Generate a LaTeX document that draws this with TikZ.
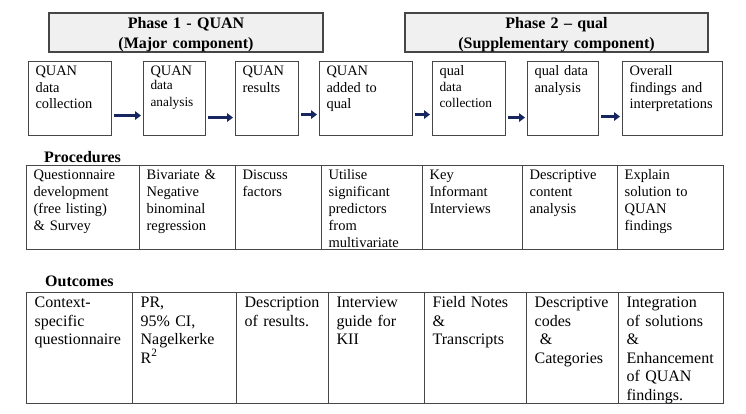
\documentclass[tikz,border=0pt]{standalone}
\usepackage{fontspec}
\setmainfont{Liberation Serif}
\usetikzlibrary{arrows.meta}

\definecolor{navy}{RGB}{24,38,96}
\definecolor{framegray}{RGB}{70,70,70}
\definecolor{headfill}{RGB}{240,240,240}

\tikzset{
	head/.style={draw=framegray, fill=headfill, line width=1.1pt, align=center, inner xsep=0pt,
		inner ysep=0pt, text height=11pt, text depth=19pt, minimum height=39pt,
		font=\fontsize{16}{19.5}\selectfont\bfseries},
	rowlabel/.style={anchor=west, inner sep=0pt, font=\fontsize{16}{19}\selectfont\bfseries},
	stepbox/.style={draw=framegray, line width=1.1pt, anchor=north west, align=left,
		inner xsep=7pt, inner ysep=3pt, text height=11pt, text depth=57pt,
		font=\fontsize{14.4}{16.7}\selectfont},
	proccell/.style={draw=framegray, line width=1.3pt, anchor=north west, align=left,
		inner xsep=7pt, inner ysep=3pt, text height=11pt, text depth=67pt,
		font=\fontsize{14.5}{17}\selectfont},
	outcell/.style={draw=framegray, line width=1.3pt, anchor=north west, align=left,
		inner xsep=8pt, inner ysep=3pt, text height=12pt, text depth=93pt,
		font=\fontsize{16}{18.5}\selectfont},
	flow/.style={navy, line width=2.8pt, -{Triangle[length=6pt,width=8.5pt]},
		shorten <=2pt, shorten >=2pt}
}

\begin{document}
\begin{tikzpicture}[x=1pt, y=-1pt]
	\useasboundingbox (0, 0) rectangle (746, 413);

	% Phases
	\node[head, text width=274pt] (ph1) at (186, 32.5) {Phase 1 - QUAN\\(Major component)};
	\node[head, text width=303pt] (ph2) at (556.5, 32.5) {Phase 2 -- qual\\(Supplementary component)};

	% Steps
	\node[stepbox, text width=69pt] (q1) at (28, 61) {QUAN\\data\\collection};
	\node[stepbox, text width=48pt] (q2) at (143, 61) {QUAN\\\fontsize{13.3}{14.3}\selectfont data\\analysis};
	\node[stepbox, text width=49pt] (q3) at (235, 61) {QUAN\\results};
	\node[stepbox, text width=79pt] (q4) at (319, 61) {QUAN\\added to\\qual};
	\node[stepbox, text width=59pt] (q5) at (432, 61) {qual\\\fontsize{13.3}{15.5}\selectfont data\\collection};
	\node[stepbox, text width=57pt] (q6) at (527, 61) {qual data\\analysis};
	\node[stepbox, text width=86pt] (q7) at (622, 61) {Overall\\findings and\\interpretations};

	\draw[flow] ([yshift=-17pt]q1.east) -- ([yshift=-17pt]q2.west);
	\draw[flow, line width=3.4pt] ([yshift=-19pt]q2.east) -- ([yshift=-19pt]q3.west);
	\draw[flow] ([yshift=-16pt]q3.east) -- ([yshift=-16pt]q4.west);
	\draw[flow] ([yshift=-16pt]q4.east) -- ([yshift=-16pt]q5.west);
	\draw[flow] ([yshift=-19pt]q5.east) -- ([yshift=-19pt]q6.west);
	\draw[flow] ([yshift=-18pt]q6.east) -- ([yshift=-18pt]q7.west);

	% Procedures
	\node[rowlabel] (proc) at (44, 157) {Procedures};
	\node[proccell, text width=99pt] (p1) at (26, 165) {Questionnaire\\development\\(free listing)\\\& Survey};
	\node[proccell, text width=82pt] (p2) at (139, 165) {Bivariate \&\\Negative\\binominal\\regression};
	\node[proccell, text width=72pt] (p3) at (235, 165) {Discuss\\factors};
	\node[proccell, text width=87pt] (p4) at (321, 165) {Utilise\\significant\\predictors\\from\\multivariate};
	\node[proccell, text width=86pt] (p5) at (422, 165) {Key\\Informant\\Interviews};
	\node[proccell, text width=81pt] (p6) at (522, 165) {Descriptive\\content\\analysis};
	\node[proccell, text width=92pt] (p7) at (617, 165) {Explain\\solution to\\QUAN\\findings};

	% Outcomes
	\node[rowlabel] (outc) at (45, 281) {Outcomes};
	\node[outcell, text width=90pt] (o1) at (26, 292) {Context-\\specific\\questionnaire};
	\node[outcell, text width=88pt] (o2) at (132, 292) {PR,\\95\% CI,\\Nagelkerke\\R\textsuperscript{2}};
	\node[outcell, text width=76pt] (o3) at (236, 292) {Description\\of results.};
	\node[outcell, text width=80pt] (o4) at (328, 292) {Interview\\guide for\\KII};
	\node[outcell, text width=86pt] (o5) at (424, 292) {Field Notes\\\&\\Transcripts};
	\node[outcell, text width=76pt] (o6) at (526, 292) {Descriptive\\codes\\\ \&\\Categories};
	\node[outcell, text width=89pt] (o7) at (618, 292) {Integration\\of solutions\\\&\\Enhancement\\of QUAN\\findings.};
\end{tikzpicture}
\end{document}
